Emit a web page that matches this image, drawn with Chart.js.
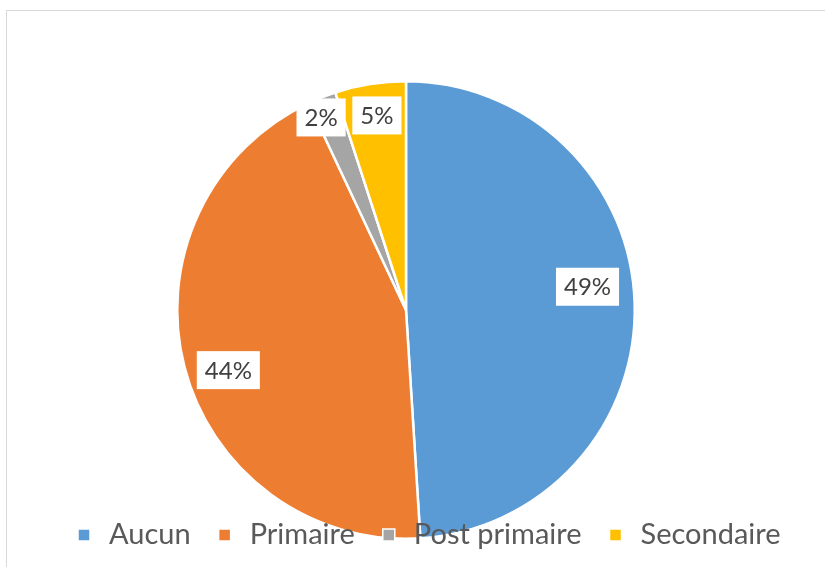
<!DOCTYPE html>
<html lang="fr">
<head>
    <meta charset="UTF-8">
    <title>Niveau d'instruction</title>
    <script src="https://cdn.jsdelivr.net/npm/chart.js"></script>
    <style>
        html, body { margin: 0; padding: 0; background: #fff; overflow: hidden; }
        .frame { position: absolute; left: 6px; top: 10px; width: 900px; height: 600px; border: 1px solid #d9d9d9; }
        .chart-box { position: absolute; left: 0; top: 0; width: 825px; height: 567px; }
    </style>
</head>
<body>
    <div class="frame"></div>
    <div class="chart-box">
        <canvas id="pieChart" width="825" height="567"></canvas>
    </div>

    <script>
        const categories = ['Aucun', 'Primaire', 'Post primaire', 'Secondaire'];
        const percents = [49, 44, 2, 5];
        const colors = ['#5B9BD5', '#ED7D31', '#A5A5A5', '#FFC000'];

        // label spot: fraction of radius, angle shift (deg) from slice middle
        const labelPlace = [
            { r: 0.8, da: -5.5 },
            { r: 0.82, da: -4.3 },
            { r: 0.92, da: -2.2 },
            { r: 0.86, da: 0.5 }
        ];

        const boxLabels = {
            id: 'boxLabels',
            afterDatasetsDraw(chart) {
                const ctx = chart.ctx;
                const arcs = chart.getDatasetMeta(0).data;
                ctx.save();
                ctx.font = '24px Lato';
                ctx.textAlign = 'center';
                ctx.textBaseline = 'middle';
                arcs.forEach((arc, i) => {
                    const p = arc.getProps(['x', 'y', 'startAngle', 'endAngle', 'outerRadius'], true);
                    const mid = (p.startAngle + p.endAngle) / 2 + labelPlace[i].da * Math.PI / 180;
                    const rr = p.outerRadius * labelPlace[i].r;
                    const cx = p.x + Math.cos(mid) * rr;
                    const cy = p.y + Math.sin(mid) * rr;
                    const txt = percents[i] + '%';
                    const w = ctx.measureText(txt).width + 16;
                    const h = 38;
                    ctx.fillStyle = '#ffffff';
                    ctx.fillRect(cx - w / 2, cy - h / 2, w, h);
                    ctx.fillStyle = '#404040';
                    ctx.fillText(txt, cx, cy + 1);
                });
                ctx.restore();
            }
        };

        const bottomLegend = {
            id: 'bottomLegend',
            afterDraw(chart) {
                const ctx = chart.ctx;
                ctx.save();
                ctx.font = '29px Lato';
                ctx.textBaseline = 'middle';
                ctx.textAlign = 'left';
                let x = 78;
                const y = 535;
                categories.forEach((name, i) => {
                    ctx.fillStyle = colors[i];
                    ctx.strokeStyle = '#ffffff';
                    ctx.lineWidth = 1.5;
                    ctx.fillRect(x, y - 6, 12, 12);
                    ctx.strokeRect(x, y - 6, 12, 12);
                    x += 12 + 19;
                    ctx.fillStyle = '#595959';
                    ctx.fillText(name, x, y);
                    x += ctx.measureText(name).width + 28;
                });
                ctx.restore();
            }
        };

        window.onload = function() {
            const ctx = document.getElementById('pieChart').getContext('2d');
            new Chart(ctx, {
                type: 'pie',
                data: {
                    labels: categories,
                    datasets: [{
                        data: percents,
                        backgroundColor: colors,
                        borderColor: '#ffffff',
                        borderWidth: 2.5
                    }]
                },
                options: {
                    responsive: false,
                    animation: false,
                    layout: { padding: { left: 176, right: 189, top: 80, bottom: 27 } },
                    plugins: {
                        legend: { display: false },
                        tooltip: { enabled: false }
                    }
                },
                plugins: [boxLabels, bottomLegend]
            });
        };
    </script>
</body>
</html>
